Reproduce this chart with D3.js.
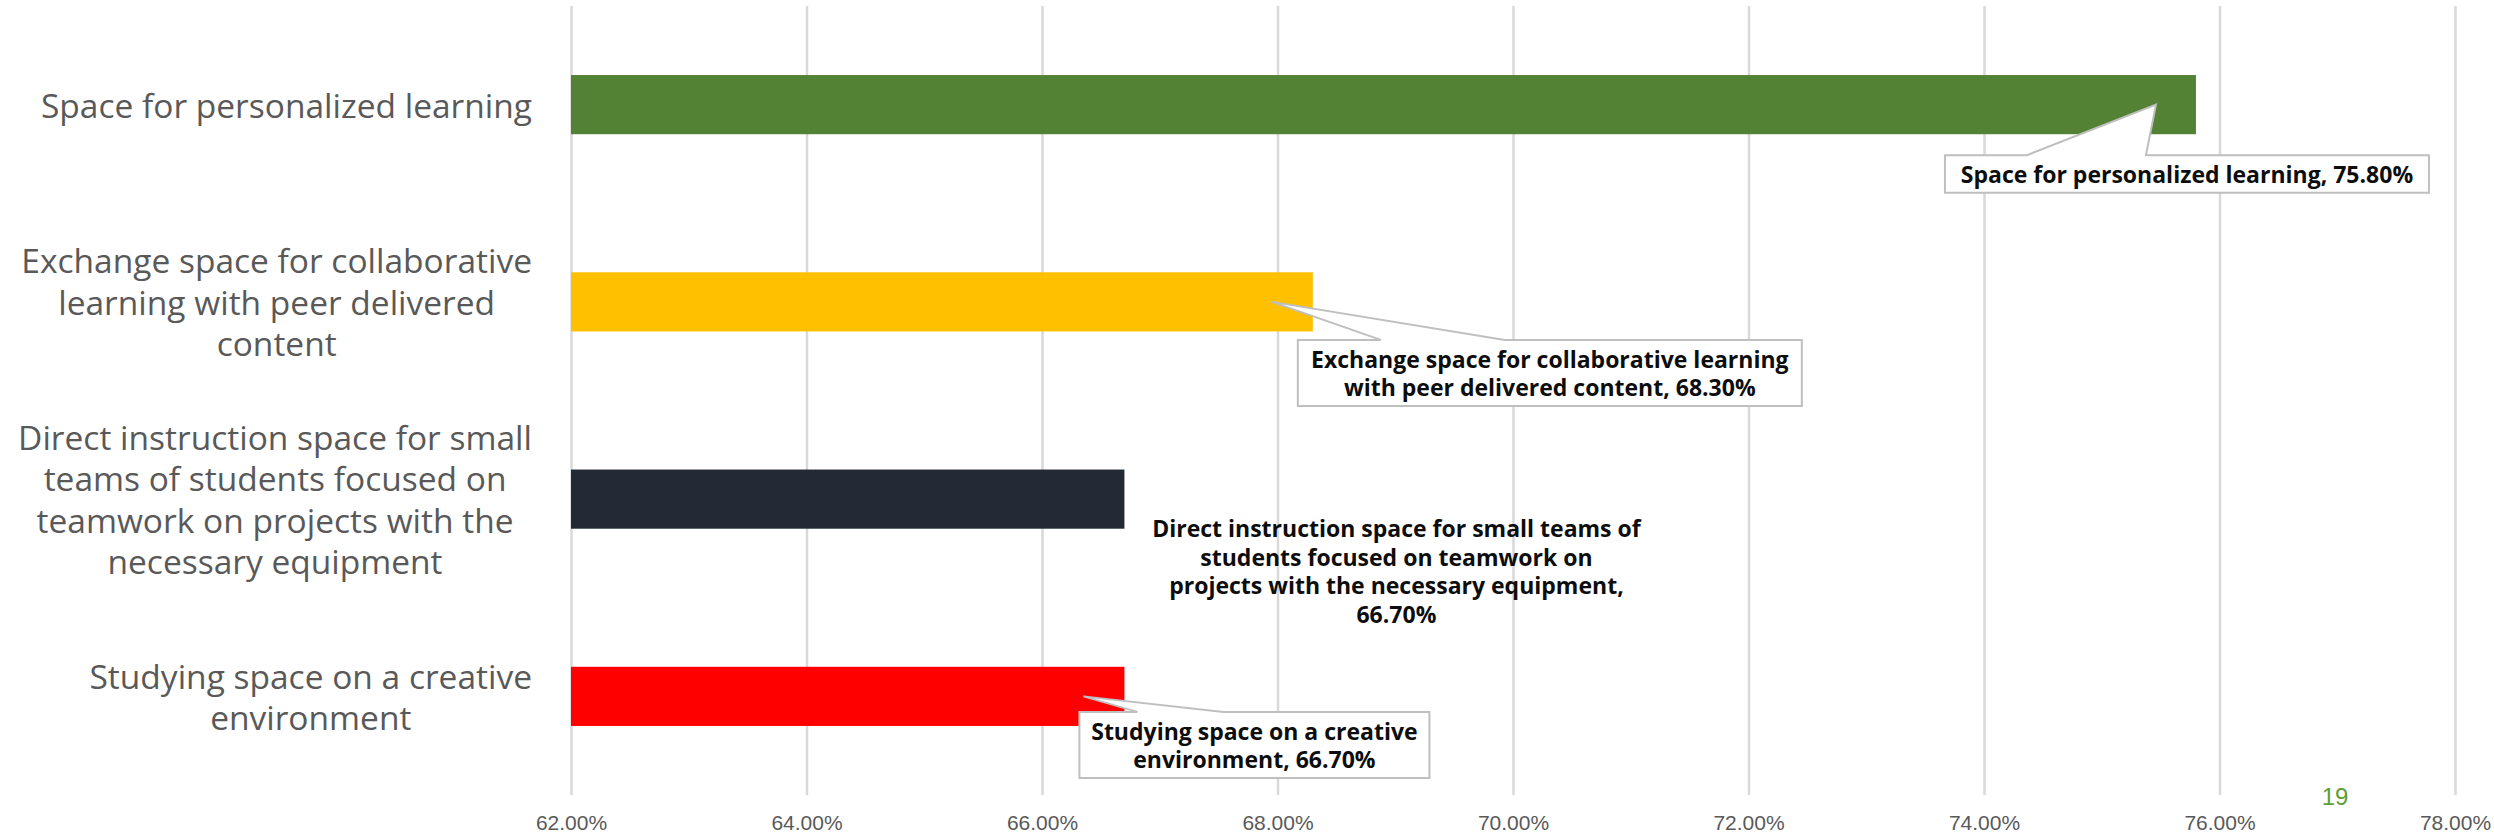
<!DOCTYPE html>
<html>
<head>
<meta charset="utf-8">
<script src="https://cdn.jsdelivr.net/npm/d3@7"></script>
<style>
  html, body { margin: 0; padding: 0; background: #ffffff; }
  svg { display: block; }
</style>
</head>
<body>
<script>
// ---------------- data ----------------
const categories = [
  "Space for personalized learning",
  "Exchange space for collaborative learning with peer delivered content",
  "Direct instruction space for small teams of students focused on teamwork on projects with the necessary equipment",
  "Studying space on a creative environment"
];
const values = [75.8, 68.3, 66.7, 66.7];
const barColors = ["#548235", "#FFC000", "#222A35", "#FF0000"];
const xTicks = [62, 64, 66, 68, 70, 72, 74, 76, 78];
const xDomain = [62, 78];
const categoryLabelLines = [
  ["Space for personalized learning"],
  ["Exchange space for collaborative", "learning with peer delivered", "content"],
  ["Direct instruction space for small", "teams of students focused on", "teamwork on projects with the", "necessary equipment"],
  ["Studying space on a creative", "environment"]
];
const dataLabelLines = [
  ["Space for personalized learning, {v}"],
  ["Exchange space for collaborative learning", "with peer delivered content, {v}"],
  ["Direct instruction space for small teams of", "students focused on teamwork on", "projects with the necessary equipment,", "{v}"],
  ["Studying space on a creative", "environment, {v}"]
];
const pageNumber = "19";

// ---------------- layout ----------------
const W = 2494, H = 833;
const plotLeft = 571, plotRight = 2455, plotTop = 6, plotBottom = 795;
// callout placement relative to bar end (xe) and band centre (yc)
const calloutLayout = [
  { box: true, l: -251, r: 233, t: 50.5, b: 88, tipDx: -40, bl: -169, br: -50 },
  { box: true, l: -15, r: 489, t: 38, b: 104, tipDx: -41, bl: 68, br: 192 },
  { box: false, cx: 272, cy: 72 },
  { box: true, l: -45, r: 305, t: 15.5, b: 81.5, tipDx: -41, bl: 13, br: 99 }
];

const svg = d3.select("body").append("svg")
  .attr("width", W).attr("height", H)
  .style("background", "#fff");

const x = d3.scaleLinear().domain(xDomain).range([plotLeft, plotRight]);
const y = d3.scaleBand().domain(categories).range([plotTop, plotBottom])
  .paddingInner(0.7).paddingOuter(0.35);

// gridlines
const grid = svg.append("g").attr("transform", `translate(0,${plotBottom})`)
  .call(d3.axisBottom(x).tickValues(xTicks).tickSize(-(plotBottom - plotTop)).tickFormat(""));
grid.select(".domain").remove();
grid.selectAll(".tick line").attr("stroke", "#d9d9d9").attr("stroke-width", 2.5);

// x tick labels
const xAxis = svg.append("g").attr("transform", `translate(0,${plotBottom})`)
  .call(d3.axisBottom(x).tickValues(xTicks).tickSize(0)
    .tickFormat(d => d.toFixed(2) + "%"));
xAxis.select(".domain").remove();
xAxis.selectAll(".tick text")
  .attr("y", 35)
  .attr("dy", 0)
  .attr("fill", "#595959")
  .style("font-family", "'Liberation Sans', Arial, sans-serif")
  .style("font-size", "21px");

// bars
svg.append("g").selectAll("rect").data(categories).join("rect")
  .attr("x", x(xDomain[0]))
  .attr("y", d => y(d))
  .attr("width", (d, i) => x(values[i]) - x(xDomain[0]))
  .attr("height", y.bandwidth())
  .attr("fill", (d, i) => barColors[i]);

// category labels
const catFont = "'Open Sans', 'Noto Sans', sans-serif";
const catLH = 41.5;
const catRight = 532;
categories.forEach((c, i) => {
  const yc = y(c) + y.bandwidth() / 2;
  const lines = categoryLabelLines[i];
  const g = svg.append("g");
  const texts = g.selectAll("text").data(lines).join("text")
    .attr("y", (d, k) => yc + (k - (lines.length - 1) / 2) * catLH)
    .attr("dominant-baseline", "central")
    .attr("text-anchor", "middle")
    .attr("fill", "#595959")
    .style("font-family", catFont)
    .style("font-size", "33.5px")
    .text(d => d);
  let maxW = 0;
  texts.each(function () { maxW = Math.max(maxW, this.getComputedTextLength()); });
  texts.attr("x", catRight - maxW / 2);
});

// data-label callouts
const lblFont = "'Open Sans', 'Noto Sans', sans-serif";
const lblLH = 28.5;
categories.forEach((c, i) => {
  const xe = x(values[i]);
  const yc = y(c) + y.bandwidth() / 2;
  const L = calloutLayout[i];
  const vText = values[i].toFixed(2) + "%";
  const lines = dataLabelLines[i].map(s => s.replace("{v}", vText));
  let cx, cy;
  if (L.box) {
    const l = xe + L.l, r = xe + L.r, t = yc + L.t, b = yc + L.b;
    const tipX = xe + L.tipDx, tipY = yc;
    const p = d3.path();
    p.moveTo(l, t);
    p.lineTo(xe + L.bl, t);
    p.lineTo(tipX, tipY);
    p.lineTo(xe + L.br, t);
    p.lineTo(r, t);
    p.lineTo(r, b);
    p.lineTo(l, b);
    p.closePath();
    svg.append("path").attr("d", p.toString())
      .attr("fill", "#ffffff").attr("stroke", "#bfbfbf").attr("stroke-width", 2)
      .attr("stroke-linejoin", "miter");
    cx = (l + r) / 2; cy = (t + b) / 2;
  } else {
    cx = xe + L.cx; cy = yc + L.cy;
  }
  svg.append("g").selectAll("text").data(lines).join("text")
    .attr("x", cx)
    .attr("y", (d, k) => cy + (k - (lines.length - 1) / 2) * lblLH)
    .attr("dominant-baseline", "central")
    .attr("text-anchor", "middle")
    .attr("fill", "#0d0d0d")
    .style("font-family", lblFont)
    .style("font-weight", "bold")
    .style("font-size", "23px")
    .text(d => d);
});

// page number
svg.append("text")
  .attr("x", 2335).attr("y", 796)
  .attr("text-anchor", "middle").attr("dominant-baseline", "central")
  .attr("fill", "#5E9E32")
  .style("font-family", "'Liberation Sans', Arial, sans-serif")
  .style("font-size", "24px")
  .text(pageNumber);
</script>
</body>
</html>
